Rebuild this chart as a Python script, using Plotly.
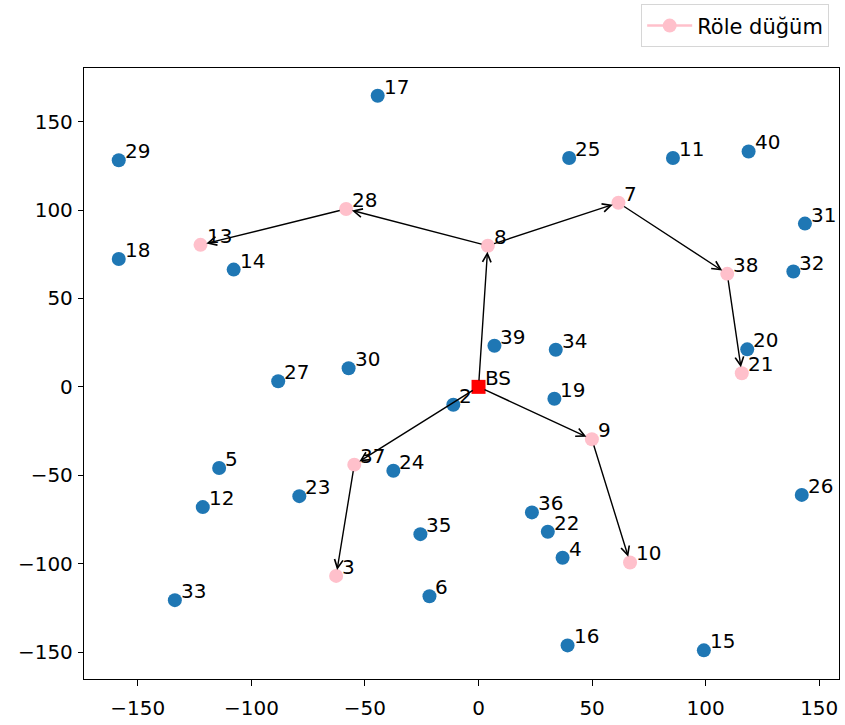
import plotly.graph_objects as go

# Sensor node positions (id, x, y)
node_ids = [2, 3, 4, 5, 6, 7, 8, 9, 10, 11, 12, 13, 14, 15, 16, 17, 18, 19, 20, 21,
            22, 23, 24, 25, 26, 27, 28, 29, 30, 31, 32, 33, 34, 35, 36, 37, 38, 39, 40]
node_x = [-11.1, -62.7, 37.0, -114.2, -21.6, 61.6, 4.1, 49.9, 66.7, 85.6,
          -121.4, -122.4, -107.8, 99.2, 39.2, -44.4, -158.4, 33.4, 118.3, 115.9,
          30.5, -78.9, -37.5, 39.9, 142.3, -88.2, -58.3, -158.4, -57.2, 143.7,
          138.6, -133.7, 34.0, -25.6, 23.5, -54.7, 109.5, 7.0, 118.9]
node_y = [-10.1, -106.9, -96.6, -45.9, -118.4, 104.1, 79.8, -29.6, -99.3, 129.4,
          -68.0, 80.3, 66.3, -149.0, -146.2, 164.6, 72.3, -6.7, 21.2, 7.7,
          -81.9, -61.8, -47.4, 129.4, -61.1, 3.2, 100.6, 128.1, 10.5, 92.3,
          65.2, -120.6, 21.0, -83.3, -71.0, -44.0, 63.9, 23.2, 133.1]

# Base station
bs_x, bs_y = 0.0, 0.0

# Relay nodes and the routing tree (parent -> child); "BS" is the root
relay_ids = [8, 28, 13, 7, 38, 21, 9, 10, 37, 3]
routes = [("BS", 8), (8, 28), (28, 13), (8, 7), (7, 38), (38, 21),
          ("BS", 9), (9, 10), ("BS", 37), (37, 3)]

pos = {n: (x, y) for n, x, y in zip(node_ids, node_x, node_y)}
pos["BS"] = (bs_x, bs_y)

normal = [n for n in node_ids if n not in relay_ids]

FONT = "DejaVu Sans"
FS = 20

fig = go.Figure()

fig.add_trace(go.Scatter(
    x=[pos[n][0] for n in normal], y=[pos[n][1] for n in normal],
    mode="markers", marker=dict(color="#1f77b4", size=14),
    showlegend=False, hoverinfo="skip"))

fig.add_trace(go.Scatter(
    x=[pos[n][0] for n in relay_ids], y=[pos[n][1] for n in relay_ids],
    mode="markers", marker=dict(color="pink", size=14),
    showlegend=False, hoverinfo="skip"))

fig.add_trace(go.Scatter(
    x=[bs_x], y=[bs_y], mode="markers",
    marker=dict(color="red", size=14, symbol="square"),
    showlegend=False, hoverinfo="skip"))

# legend entry for relays (line + marker key)
fig.add_trace(go.Scatter(
    x=[None], y=[None], mode="lines+markers", name="Röle düğüm",
    line=dict(color="pink", width=2.5), marker=dict(color="pink", size=14)))

annotations = []

# routing arrows
for src, dst in routes:
    sx, sy = pos[src]
    dx, dy = pos[dst]
    annotations.append(dict(
        x=dx, y=dy, xref="x", yref="y",
        ax=sx, ay=sy, axref="x", ayref="y",
        text="", showarrow=True, arrowhead=5, arrowsize=1.2,
        arrowwidth=1.4, arrowcolor="black", standoff=6, startstandoff=5))

# node labels
for n in node_ids + ["BS"]:
    x, y = pos[n]
    annotations.append(dict(
        x=x, y=y, xref="x", yref="y", text=str(n), showarrow=False,
        xanchor="left", yanchor="middle", xshift=4, yshift=9,
        font=dict(family=FONT, size=FS, color="black")))

ticks = [-150, -100, -50, 0, 50, 100, 150]
tick_text = [str(t).replace("-", "\u2212") for t in ticks]

fig.update_layout(
    width=845, height=725,
    margin=dict(l=84, r=5, t=67, b=43),
    paper_bgcolor="white", plot_bgcolor="white",
    font=dict(family=FONT, size=FS, color="black"),
    annotations=annotations,
    showlegend=True,
    legend=dict(x=0.987, xanchor="right", y=1.104, yanchor="top",
                bordercolor="#d6d6d6", borderwidth=1, bgcolor="white",
                itemwidth=45,
                font=dict(family=FONT, size=21, color="black")),
    xaxis=dict(range=[-173.7, 158.7], tickvals=ticks, ticktext=tick_text,
               showgrid=False, zeroline=False, showline=True, linecolor="black",
               linewidth=1.3, mirror=True, ticks="outside", ticklen=6,
               tickcolor="black", ticklabelstandoff=5),
    yaxis=dict(range=[-165.2, 180.3], tickvals=ticks, ticktext=tick_text,
               showgrid=False, zeroline=False, showline=True, linecolor="black",
               linewidth=1.3, mirror=True, ticks="outside", ticklen=5,
               tickcolor="black", ticklabelstandoff=1),
)

fig.write_html("out.html")
